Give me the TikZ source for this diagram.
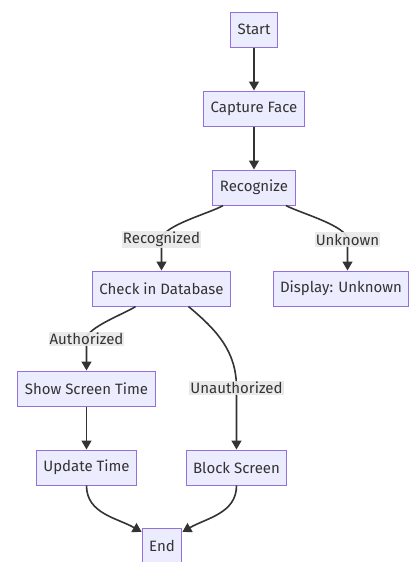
\documentclass[tikz,border=0pt]{standalone}
\usepackage{fontspec}
\setmainfont{Fira Sans}
\usetikzlibrary{arrows.meta}

\definecolor{boxfill}{HTML}{ECECFF}
\definecolor{boxline}{HTML}{9370DB}
\definecolor{ink}{HTML}{333333}
\definecolor{lblfill}{HTML}{E8E8E8}

\begin{document}
\begin{tikzpicture}[x=1pt, y=-1pt,
	box/.style={draw=boxline, fill=boxfill, line width=1pt, text=ink, minimum height=35pt, inner xsep=7pt, font=\fontsize{15}{18}\selectfont},
	lbl/.style={fill=lblfill, fill opacity=0.9, text opacity=1, text=ink, inner xsep=1pt, inner ysep=1.5pt, font=\fontsize{15}{18}\selectfont},
	flow/.style={draw=ink, line width=1.6pt, -{Triangle[length=9pt,width=10pt]}}]
					% page size
					
					\def\pagew{409}
					\def\pageh{562}
					\useasboundingbox (0, 0) rectangle (\pagew, \pageh);
					
					% boxes
					\node[box] (start) at (254, 29.5)  {Start};
					\node[box] (cap)   at (254, 108.5) {Capture Face};
					\node[box] (rec)   at (254, 187.5) {Recognize};
					\node[box] (check) at (161.5, 288.5) {Check in Database};
					\node[box] (disp)  at (341, 288.5) {Display: Unknown};
					\node[box] (show)  at (86.5, 388.5)  {Show Screen Time};
					\node[box] (upd)   at (86.5, 467.5)  {Update Time};
					\node[box] (block) at (236.5, 467.5) {Block Screen};
					\node[box] (end)   at (162, 546)    {End};
					
					% label spots
					\coordinate (lrec)    at (161.5, 239.5);
					\coordinate (lunk)    at (347.5, 239.5);
					\coordinate (lauth)   at (86.5, 339);
					\coordinate (lunauth) at (236.5, 388);
					
					% arrows
					\draw[flow] (start) -- (cap);
					\draw[flow] (cap) -- (rec);
					\draw[flow] ([xshift=-31pt]rec.south) to[out=-148, in=90, looseness=0.5] (lrec) -- (check);
					\draw[flow] ([xshift=32pt]rec.south) to[out=-30, in=90, looseness=0.5] (lunk) -- (disp.north -| lunk);
					\draw[flow] ([xshift=-26pt]check.south) to[out=-145, in=90, looseness=0.5] (lauth) -- (show);
					\draw[flow] ([xshift=27pt]check.south) to[out=-40, in=90] (lunauth) -- (block);
					\draw[flow] (show) -- (upd);
					\draw[flow] (upd) to[out=-90, in=150] ([yshift=-4pt]end.north west);
					\draw[flow] (block) to[out=-90, in=30] ([yshift=-4pt]end.north east);
					
					% edge labels
					\node[lbl] at (lrec)    {Recognized};
					\node[lbl] at (lunk)    {Unknown};
					\node[lbl] at (lauth)   {Authorized};
					\node[lbl] at (lunauth) {Unauthorized};
\end{tikzpicture}
\end{document}
